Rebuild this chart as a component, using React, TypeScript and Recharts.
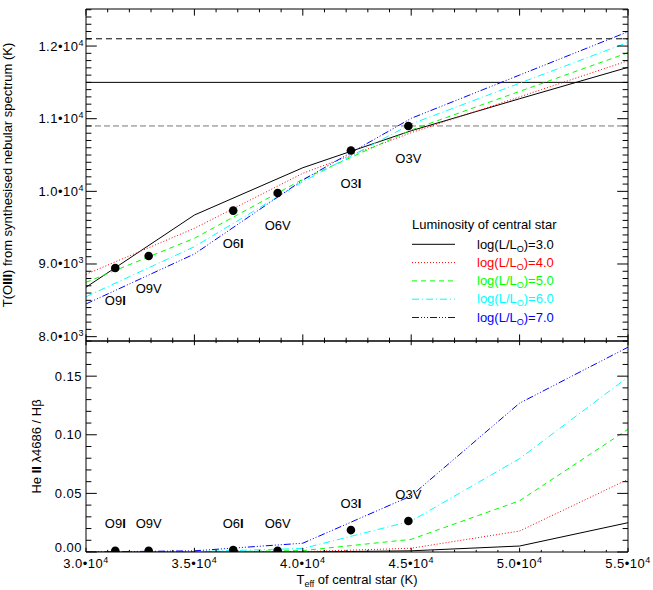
import React from 'react';
import { ComposedChart, Line, XAxis, YAxis, ReferenceLine, Legend, LabelList } from 'recharts';

// model grid, Teff of central star (K)
const TEFF = [30000, 35000, 40000, 45000, 50000, 55000];

// T(OIII) from synthesised nebular spectrum, one list per log(L/Lo)
const TO3_L3 = [8680, 9674, 10325, 10834, 11275, 11707];
const TO3_L4 = [8858, 9491, 10248, 10807, 11300, 11798];
const TO3_L5 = [8748, 9354, 10166, 10844, 11376, 11908];
const TO3_L6 = [8550, 9238, 10133, 10927, 11489, 12051];
const TO3_L7 = [8450, 9138, 10156, 11005, 11601, 12197];

// He II 4686 / Hbeta
const HE2_L3 = [0, 0, 0, 0.001, 0.0051, 0.025];
const HE2_L4 = [0, 0, 0.0003, 0.0032, 0.0179, 0.062];
const HE2_L5 = [0, 0, 0.0012, 0.0108, 0.0437, 0.1047];
const HE2_L6 = [0, 0.0003, 0.003, 0.0264, 0.0797, 0.1492];
const HE2_L7 = [0, 0.001, 0.0075, 0.0479, 0.127, 0.1747];

// spectral types
const STAR_NAMES = ['O9I', 'O9V', 'O6I', 'O6V', 'O3I', 'O3V'];
const STAR_TEFF = [31350, 32890, 36790, 38840, 42220, 44870];
const STAR_TO3 = [8945, 9110, 9735, 9977, 10562, 10899];
const STAR_HE2 = [0.0011, 0.0011, 0.0017, 0.0011, 0.0187, 0.0264];

// observed T(OIII) and its range
const OBS_T = 11500;
const OBS_LOW = 10900;
const OBS_HIGH = 12100;

const LUM_LABELS = ['3.0', '4.0', '5.0', '6.0', '7.0'];
const LUM_COLORS = ['#000000', '#ff0000', '#00ff00', '#00ffff', '#0000ff'];
const LUM_DASH = [undefined, '1 2', '5 4', '7 3 1 3', '7 2 1 2 1 2 1 2'];

const X_DOMAIN = [30000, 55000];
const TOP_DOMAIN = [7940, 12510];
const BOT_DOMAIN = [0, 0.18];
const X_MAJOR = [30000, 35000, 40000, 45000, 50000, 55000];
const TOP_Y_MAJOR = [8000, 9000, 10000, 11000, 12000];
const BOT_Y_MAJOR = [0, 0.05, 0.1, 0.15];

const TO3 = [TO3_L3, TO3_L4, TO3_L5, TO3_L6, TO3_L7];
const HE2 = [HE2_L3, HE2_L4, HE2_L5, HE2_L6, HE2_L7];

const GRID = TEFF.map((teff, i) => {
  const row: any = { teff };
  TO3.forEach((s, k) => (row['t' + k] = s[i]));
  HE2.forEach((s, k) => (row['h' + k] = s[i]));
  return row;
});
const STARS = STAR_NAMES.map((name, i) => ({ name, teff: STAR_TEFF[i], t: STAR_TO3[i], h: STAR_HE2[i] }));

// minor ticks
const X_TICKS: number[] = [];
for (let v = 30000; v <= 55000; v += 1000) X_TICKS.push(v);
const TOP_Y_TICKS: number[] = [];
for (let v = 8000; v <= 12500; v += 100) TOP_Y_TICKS.push(v);
const BOT_Y_TICKS: number[] = [];
for (let i = 0; i <= 18; i++) BOT_Y_TICKS.push(i / 100);

const FONT = '"Liberation Sans", Arial, Helvetica, sans-serif';

const isMajorX = (v: number) => X_MAJOR.includes(v);
const isMajorTop = (v: number) => TOP_Y_MAJOR.includes(v);
const isMajorBot = (v: number) => BOT_Y_MAJOR.some((m) => Math.abs(m - v) < 1e-6);

const sci = (v: number) => {
  const e = Math.floor(Math.log10(v) + 1e-9);
  const m = (v / Math.pow(10, e)).toFixed(1);
  return [
    <tspan key="m">{m}•10</tspan>,
    <tspan key="e" dy={-5} fontSize={9}>{e}</tspan>,
  ];
};

const topYLabel = (v: number, x: number, y: number) => (
  <text x={x - 2} y={y + 4.5} textAnchor="end" fontFamily={FONT} fontSize={13} letterSpacing={0.5} fill="#000">{sci(v)}</text>
);
const botYLabel = (v: number, x: number, y: number) => (
  <text x={x - 4} y={y + 4.5 - (v === 0 ? 4.5 : 0)} textAnchor="end" fontFamily={FONT} fontSize={13} letterSpacing={0.5} fill="#000">
    {v.toFixed(2)}
  </text>
);
const xLabel = (v: number, x: number, y: number) => (
  <text x={x} y={y + 16} textAnchor="middle" fontFamily={FONT} fontSize={13} letterSpacing={0.5} fill="#000">{sci(v)}</text>
);

// ticks point inwards, IDL style
const AxisTick = (props: any) => {
  const { x, y, payload, side, len, major, label } = props;
  const v = payload.value;
  const big = major(v);
  const l = big ? len : len / 2;
  let x2 = x;
  let y2 = y;
  if (side === 'left') x2 = x + l;
  if (side === 'right') x2 = x - l;
  if (side === 'bottom') y2 = y - l;
  if (side === 'top') y2 = y + l;
  return (
    <g>
      <line x1={x} y1={y} x2={x2} y2={y2} stroke="#000" strokeWidth={1} />
      {big && label ? label(v, x, y) : null}
    </g>
  );
};

const StarLabel = (props: any) => {
  const { x, y, value, dy } = props;
  const name = String(value);
  const tail = name.slice(2);
  return (
    <text x={x} y={y + dy} textAnchor="middle" fontFamily={FONT} fontSize={13} fill="#000">
      {name.slice(0, 2)}
      <tspan fontWeight={tail === 'I' ? 'bold' : 'normal'}>{tail}</tspan>
    </text>
  );
};

const TopYTitle = (props: any) => {
  const vb = props.viewBox;
  const cy = vb.y + vb.height / 2;
  return (
    <text transform={`translate(12, ${cy}) rotate(-90)`} textAnchor="middle" fontFamily={FONT} fontSize={13} fill="#000">
      T(O<tspan fontWeight="bold">III</tspan>) from synthesised nebular spectrum (K)
    </text>
  );
};

const BotYTitle = (props: any) => {
  const vb = props.viewBox;
  const cy = vb.y + vb.height / 2;
  return (
    <text transform={`translate(41, ${cy}) rotate(-90)`} textAnchor="middle" fontFamily={FONT} fontSize={13} fill="#000">
      He <tspan fontWeight="bold">II</tspan> λ4686 / Hβ
    </text>
  );
};

const XTitle = (props: any) => {
  const vb = props.viewBox;
  return (
    <text x={vb.x + vb.width / 2} y={vb.y + 32} textAnchor="middle" fontFamily={FONT} fontSize={13} fill="#000">
      T<tspan fontSize={9} dy={3}>eff</tspan>
      <tspan dy={-3}> of central star (K)</tspan>
    </text>
  );
};

const LumLegend = () => (
  <svg width={230} height={115} style={{ display: 'block' }}>
    <text x={7} y={17} fontFamily={FONT} fontSize={13} fill="#000">Luminosity of central star</text>
    {LUM_LABELS.map((lab, i) => (
      <g key={lab}>
        <line x1={7} x2={50} y1={32.3 + 18.3 * i} y2={32.3 + 18.3 * i} stroke={LUM_COLORS[i]} strokeDasharray={LUM_DASH[i]} />
        <text x={72} y={36.5 + 18.3 * i} fontFamily={FONT} fontSize={13} fill={LUM_COLORS[i]}>
          log(L/L<tspan fontSize={9} dy={3}>O</tspan>
          <tspan dy={-3}>)={lab}</tspan>
        </text>
      </g>
    ))}
  </svg>
);

const axisCommon = {
  type: 'number' as const,
  interval: 0 as const,
  tickSize: 0,
  tickMargin: 0,
  tickLine: false,
  axisLine: { stroke: '#000', strokeWidth: 1 },
  allowDataOverflow: true,
};

const App: React.FC = () => {
  return (
    <div style={{ position: 'absolute', left: 0, top: 0, width: 653, height: 590, background: '#fff', fontFamily: FONT }}>
      <div style={{ position: 'absolute', left: 0, top: 0 }}>
        <ComposedChart width={653} height={350} data={GRID} margin={{ top: 8, right: 24, bottom: 8, left: 0 }}>
          <XAxis {...axisCommon} dataKey="teff" domain={X_DOMAIN} ticks={X_TICKS} height={1}
            tick={(p: any) => <AxisTick {...p} side="bottom" len={6.6} major={isMajorX} />} />
          <XAxis {...axisCommon} xAxisId="top" orientation="top" dataKey="teff" domain={X_DOMAIN} ticks={X_TICKS} height={1}
            tick={(p: any) => <AxisTick {...p} side="top" len={6.6} major={isMajorX} />} />
          <YAxis {...axisCommon} domain={TOP_DOMAIN} ticks={TOP_Y_TICKS} width={86}
            tick={(p: any) => <AxisTick {...p} side="left" len={10.8} major={isMajorTop} label={topYLabel} />}
            label={(p: any) => <TopYTitle {...p} />} />
          <YAxis {...axisCommon} yAxisId="right" orientation="right" domain={TOP_DOMAIN} ticks={TOP_Y_TICKS} width={1}
            tick={(p: any) => <AxisTick {...p} side="right" len={10.8} major={isMajorTop} />} />
          <ReferenceLine y={OBS_HIGH} stroke="#000" strokeDasharray="6 4" />
          <ReferenceLine y={OBS_T} stroke="#000" />
          <ReferenceLine y={OBS_LOW} stroke="#777" strokeDasharray="6 3" />
          {LUM_LABELS.map((lab, k) => (
            <Line key={lab} type="linear" dataKey={'t' + k} stroke={LUM_COLORS[k]} strokeDasharray={LUM_DASH[k]}
              strokeWidth={1} dot={false} activeDot={false} isAnimationActive={false} />
          ))}
          <Line data={STARS} dataKey="t" stroke="none" dot={{ r: 4.3, fill: '#000', stroke: 'none' }}
            activeDot={false} isAnimationActive={false} legendType="none">
            <LabelList dataKey="name" content={(p: any) => <StarLabel {...p} dy={37} />} />
          </Line>
          <Legend content={<LumLegend />} layout="horizontal" verticalAlign="middle" align="center"
            wrapperStyle={{ left: 405, top: 212, width: 230 }} />
        </ComposedChart>
      </div>
      <div style={{ position: 'absolute', left: 0, top: 332 }}>
        <ComposedChart width={653} height={258} data={GRID} margin={{ top: 8, right: 24, bottom: 0, left: 0 }}>
          <XAxis {...axisCommon} dataKey="teff" domain={X_DOMAIN} ticks={X_TICKS} height={38}
            tick={(p: any) => <AxisTick {...p} side="bottom" len={4.2} major={isMajorX} label={xLabel} />}
            label={(p: any) => <XTitle {...p} />} />
          <XAxis {...axisCommon} xAxisId="top" orientation="top" dataKey="teff" domain={X_DOMAIN} ticks={X_TICKS} height={1}
            tick={(p: any) => <AxisTick {...p} side="top" len={4.2} major={isMajorX} />} />
          <YAxis {...axisCommon} domain={BOT_DOMAIN} ticks={BOT_Y_TICKS} width={86}
            tick={(p: any) => <AxisTick {...p} side="left" len={10.8} major={isMajorBot} label={botYLabel} />}
            label={(p: any) => <BotYTitle {...p} />} />
          <YAxis {...axisCommon} yAxisId="right" orientation="right" domain={BOT_DOMAIN} ticks={BOT_Y_TICKS} width={1}
            tick={(p: any) => <AxisTick {...p} side="right" len={10.8} major={isMajorBot} />} />
          {LUM_LABELS.map((lab, k) => (
            <Line key={lab} type="linear" dataKey={'h' + k} stroke={LUM_COLORS[k]} strokeDasharray={LUM_DASH[k]}
              strokeWidth={1} dot={false} activeDot={false} isAnimationActive={false} />
          ))}
          <Line data={STARS} dataKey="h" stroke="none" dot={{ r: 4.3, fill: '#000', stroke: 'none' }}
            activeDot={false} isAnimationActive={false} legendType="none">
            <LabelList dataKey="name" content={(p: any) => <StarLabel {...p} dy={-22.5} />} />
          </Line>
        </ComposedChart>
      </div>
    </div>
  );
};

export default App;
